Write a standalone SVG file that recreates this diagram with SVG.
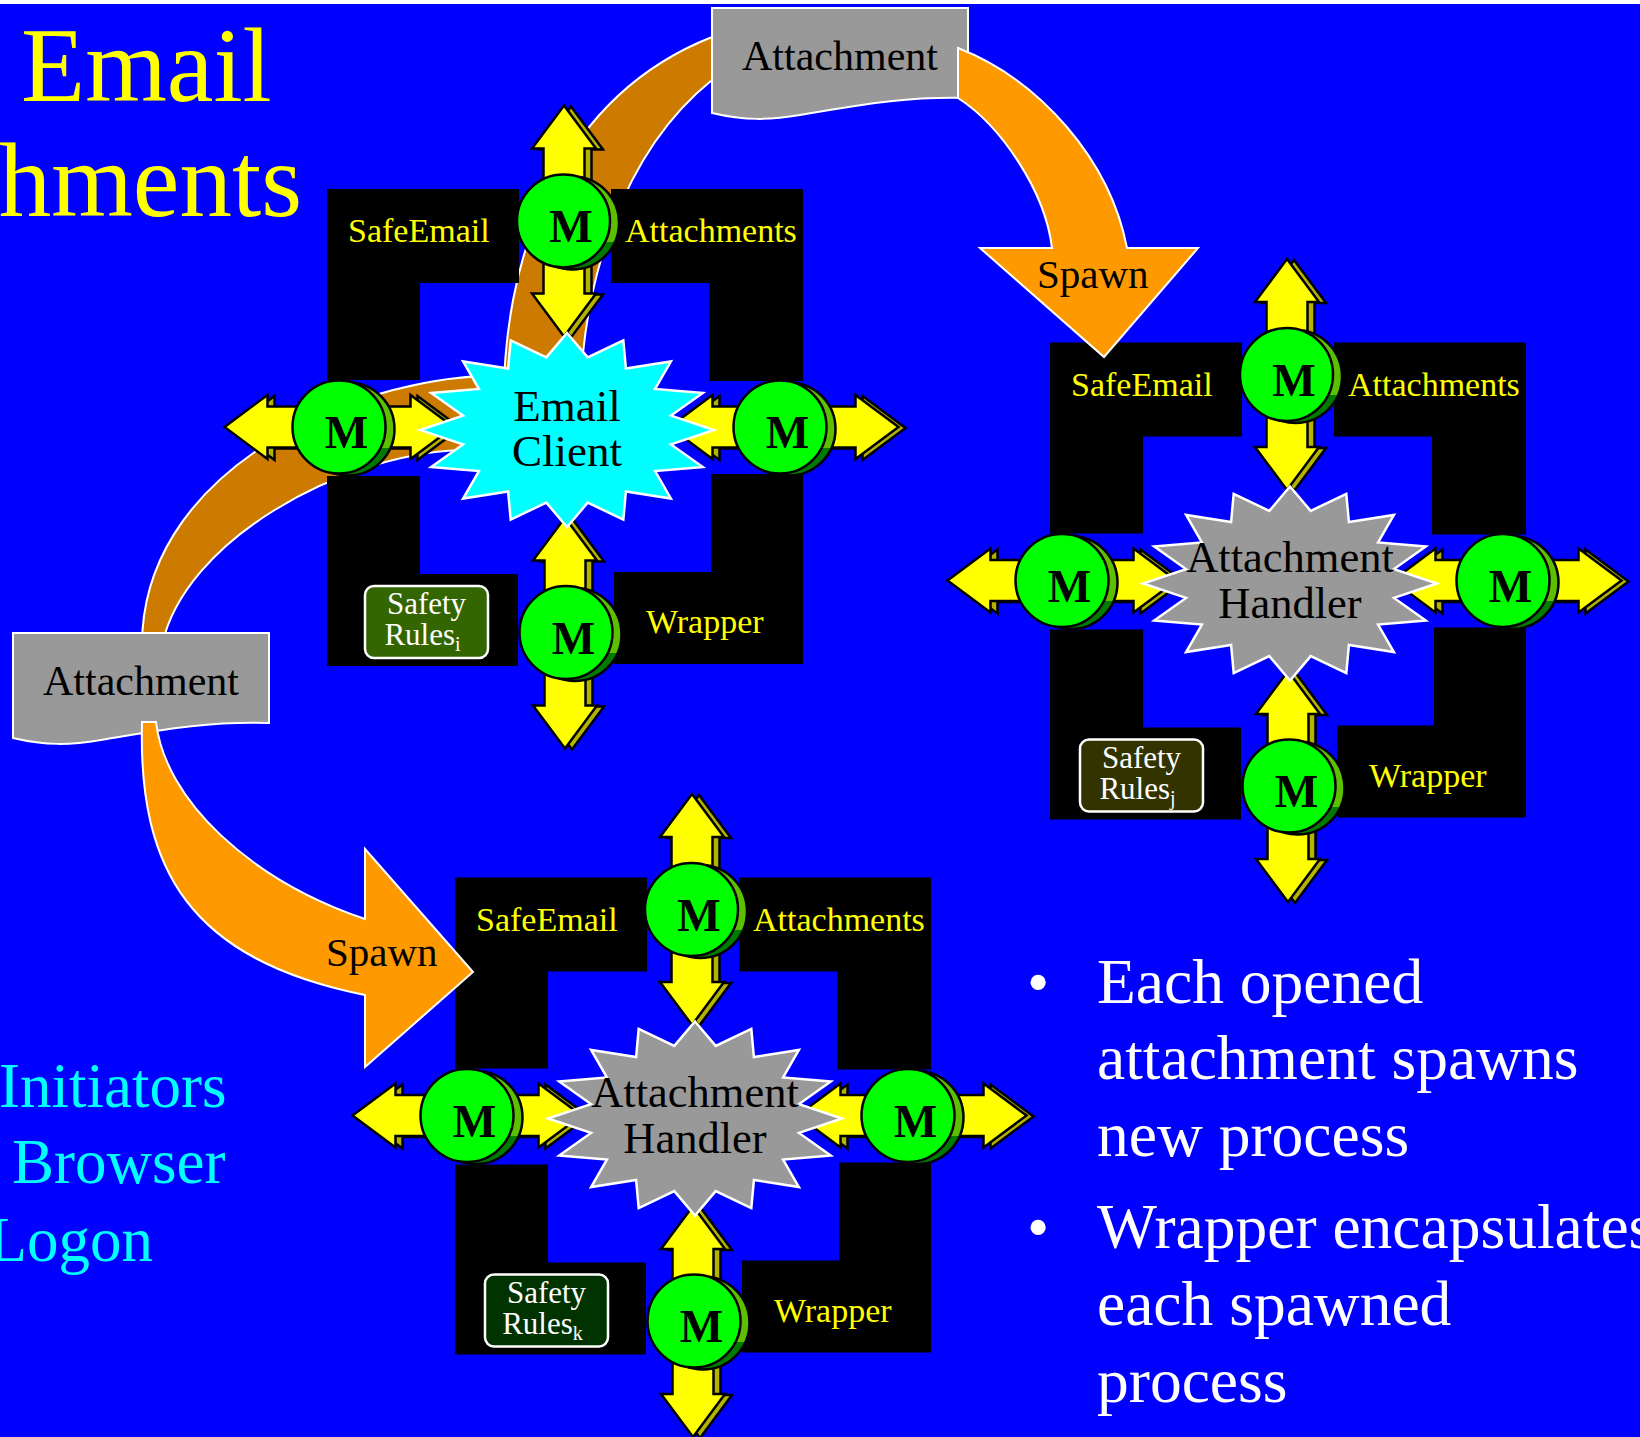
<svg xmlns="http://www.w3.org/2000/svg" width="1640" height="1437" viewBox="0 0 1640 1437">
<defs>
<style>
text { font-family: "Liberation Serif", "Times New Roman", serif; }
.title { fill:#FFFF00; font-size:105px; }
.cyan { fill:#00FFFF; font-size:63px; }
.bul { fill:#FFFFFF; font-size:63.5px; }
.frame { fill:#000000; }
.lbl { fill:#FFFF00; font-size:34px; }
.af { fill:#FFFF00; stroke:#000; stroke-width:2.5; }
.ab { fill:#B3B300; stroke:#000; stroke-width:2.5; }
.mtxt { font-size:46px; font-weight:bold; fill:#000; text-anchor:middle; }
.starC { fill:#00FFFF; stroke:#FFFFFF; stroke-width:2.5; }
.starG { fill:#999999; stroke:#FFFFFF; stroke-width:2.5; }
.ctr { font-size:45px; fill:#000; text-anchor:middle; }
.ctr2 { font-size:44.5px; fill:#000; text-anchor:middle; }
.safe { stroke:#FFFFFF; stroke-width:2.5; }
.safetxt { fill:#FFFFFF; font-size:31px; text-anchor:middle; }
.dark { fill:#CC7A00; stroke:#FFFFFF; stroke-width:2; }
.light { fill:#FF9900; stroke:#FFFFFF; stroke-width:2; }
.doc { fill:#999999; stroke:#FFFFFF; stroke-width:2; }
.doctxt { font-size:42px; fill:#000; text-anchor:middle; }
.spawn { font-size:41px; fill:#000; }
.coinF { fill:#00FF00; stroke:#000; stroke-width:2.5; }
.coinB { fill:url(#coinShade); stroke:#000; stroke-width:2.5; }
</style>
<linearGradient id="coinShade" x1="0" y1="0" x2="0" y2="1">
<stop offset="0" stop-color="#5CBF00"/>
<stop offset="0.7" stop-color="#5CBF00"/>
<stop offset="0.7" stop-color="#007A00"/>
<stop offset="1" stop-color="#007A00"/>
</linearGradient>
<path id="hShape" d="M-114.5,0 L-71.5,-32 L-71.5,-20.5 L71.5,-20.5 L71.5,-32 L114.5,0 L71.5,32 L71.5,20.5 L-71.5,20.5 L-71.5,32 Z"/>
<path id="vShape" d="M0,-115.5 L32,-72.5 L20.5,-72.5 L20.5,72.5 L32,72.5 L0,115.5 L-32,72.5 L-20.5,72.5 L-20.5,-72.5 L-32,-72.5 Z"/>
<g id="arrH"><use href="#hShape" class="ab" transform="translate(7,1)"/><use href="#hShape" class="af"/></g>
<g id="arrV"><use href="#vShape" class="ab" transform="translate(7,1)"/><use href="#vShape" class="af"/></g>
<g id="coin"><circle class="coinB" cx="9" cy="2" r="46.5"/><circle class="coinF" cx="0" cy="0" r="46.5"/></g>
<path id="starShape" d="M0,-97 L20.7,-72.6 L56.3,-89.6 L58.9,-61.5 L103.9,-68.6 L88.1,-41.1 L135.8,-37.1 L104,-14.4 L147,0 L104,14.4 L135.8,37.1 L88.1,41.1 L103.9,68.6 L58.9,61.5 L56.3,89.6 L20.7,72.6 L0,97 L-20.7,72.6 L-56.3,89.6 L-58.9,61.5 L-103.9,68.6 L-88.1,41.1 L-135.8,37.1 L-104,14.4 L-147,0 L-104,-14.4 L-135.8,-37.1 L-88.1,-41.1 L-103.9,-68.6 L-58.9,-61.5 L-56.3,-89.6 L-20.7,-72.6 Z"/>
<path id="frameShape" d="M327,189H519V283H420V380H327Z M611,189H803V381H709V283H611Z M327,476H420V574H518V666H327Z M711,474H803V664H614V572H711Z"/>
<path id="docShape" d="M712,8 H968 V98 C900,96 850,107 800,115 C770,120 745,121 712,113 Z"/>
</defs>

<rect x="0" y="0" width="1640" height="1437" fill="#0000FF"/>
<rect x="0" y="0" width="1640" height="4" fill="#FFFFFF"/>

<g id="title">
<text class="title" x="21" y="101">Email</text>
<text class="title" x="302" y="216" text-anchor="end">hments</text>
</g>

<g id="side-list">
<text class="cyan" x="-1" y="1107">Initiators</text>
<text class="cyan" x="12" y="1183">Browser</text>
<text class="cyan" x="153" y="1261" text-anchor="end">Logon</text>
</g>

<g id="bullets">
<text class="bul" x="1027" y="1003">•</text>
<text class="bul" x="1097" y="1003">Each opened</text>
<text class="bul" x="1097" y="1079">attachment spawns</text>
<text class="bul" x="1097" y="1156">new process</text>
<text class="bul" x="1027" y="1248">•</text>
<text class="bul" x="1097" y="1248">Wrapper encapsulates</text>
<text class="bul" x="1097" y="1325">each spawned</text>
<text class="bul" x="1097" y="1402">process</text>
</g>

<g id="connectors-open">
<path class="dark" d="M504,425 C498,250 565,95 712,37 L716,37 L716,80 L712,80 C625,150 578,280 580,425 Z"/>
<path class="dark" d="M520,375 L480,376 C330,385 142,480 142,645 L162,645 C185,540 340,455 460,450 L520,447 Z"/>
</g>

<g id="attachment-top">
<use href="#docShape" class="doc"/>
<text class="doctxt" x="840" y="70">Attachment</text>
</g>
<g id="attachment-left" transform="translate(-699,625)">
<use href="#docShape" class="doc"/>
<text class="doctxt" x="840" y="70">Attachment</text>
</g>

<g id="email-client-module">
<use href="#frameShape" class="frame"/>
<use href="#arrV" x="564" y="221"/>
<use href="#arrV" x="565" y="633"/>
<use href="#arrH" x="339" y="427"/>
<use href="#arrH" x="784" y="427"/>
<use href="#starShape" x="567" y="430" class="starC"/>
<text class="ctr" x="567" y="421">Email</text>
<text class="ctr" x="567" y="466">Client</text>
<use href="#coin" x="563.5" y="221"/>
<use href="#coin" x="566" y="632.5"/>
<use href="#coin" x="339" y="427"/>
<use href="#coin" x="780" y="427"/>
<text class="mtxt" x="571" y="242">M</text>
<text class="mtxt" x="573.5" y="653.5">M</text>
<text class="mtxt" x="346.5" y="448">M</text>
<text class="mtxt" x="787.5" y="448">M</text>
<text class="lbl" x="348" y="242">SafeEmail</text>
<text class="lbl" x="625" y="242">Attachments</text>
<text class="lbl" x="646" y="633">Wrapper</text>
<rect class="safe" x="365" y="586" width="123" height="72" rx="9" fill="#336600"/>
<text class="safetxt"><tspan x="426.5" y="614">Safety</tspan><tspan x="422.5" y="645">Rules</tspan><tspan font-size="20" dy="6">i</tspan></text>
</g>

<g id="handler-right-module" transform="translate(723,153.5)">
<use href="#frameShape" class="frame"/>
<use href="#arrV" x="564" y="221"/>
<use href="#arrV" x="565" y="633"/>
<use href="#arrH" x="339" y="427"/>
<use href="#arrH" x="784" y="427"/>
<use href="#starShape" x="567" y="430" class="starG"/>
<text class="ctr2" x="567" y="418">Attachment</text>
<text class="ctr2" x="567" y="464">Handler</text>
<use href="#coin" x="563.5" y="221"/>
<use href="#coin" x="566" y="632.5"/>
<use href="#coin" x="339" y="427"/>
<use href="#coin" x="780" y="427"/>
<text class="mtxt" x="571" y="242">M</text>
<text class="mtxt" x="573.5" y="653.5">M</text>
<text class="mtxt" x="346.5" y="448">M</text>
<text class="mtxt" x="787.5" y="448">M</text>
<text class="lbl" x="348" y="242">SafeEmail</text>
<text class="lbl" x="625" y="242">Attachments</text>
<text class="lbl" x="646" y="633">Wrapper</text>
<rect class="safe" x="357" y="586" width="123" height="72" rx="9" fill="#333300"/>
<text class="safetxt"><tspan x="418.5" y="614">Safety</tspan><tspan x="414.5" y="645">Rules</tspan><tspan font-size="20" dy="6">j</tspan></text>
</g>

<g id="handler-bottom-module" transform="translate(128,688.5)">
<use href="#frameShape" class="frame"/>
<use href="#arrV" x="564" y="221"/>
<use href="#arrV" x="565" y="633"/>
<use href="#arrH" x="339" y="427"/>
<use href="#arrH" x="784" y="427"/>
<use href="#starShape" x="567" y="430" class="starG"/>
<text class="ctr2" x="567" y="418">Attachment</text>
<text class="ctr2" x="567" y="464">Handler</text>
<use href="#coin" x="563.5" y="221"/>
<use href="#coin" x="566" y="632.5"/>
<use href="#coin" x="339" y="427"/>
<use href="#coin" x="780" y="427"/>
<text class="mtxt" x="571" y="242">M</text>
<text class="mtxt" x="573.5" y="653.5">M</text>
<text class="mtxt" x="346.5" y="448">M</text>
<text class="mtxt" x="787.5" y="448">M</text>
<text class="lbl" x="348" y="242">SafeEmail</text>
<text class="lbl" x="625" y="242">Attachments</text>
<text class="lbl" x="646" y="633">Wrapper</text>
<rect class="safe" x="357" y="586" width="123" height="72" rx="9" fill="#003300"/>
<text class="safetxt"><tspan x="418.5" y="614">Safety</tspan><tspan x="414.5" y="645">Rules</tspan><tspan font-size="20" dy="6">k</tspan></text>
</g>

<g id="connectors-spawn">
<path class="light" d="M958,48 C1040,80 1110,160 1127,248 L1198,248 L1104,357 L980,248 L1052,248 C1045,190 1000,125 958,98 Z"/>
<text class="spawn" x="1037" y="288">Spawn</text>
<path class="light" d="M142,722 C138,870 190,960 365,995 L365,1067 L473,972 L365,849 L365,919 C250,880 165,800 156,722 Z"/>
<text class="spawn" x="326" y="966">Spawn</text>
</g>
</svg>
